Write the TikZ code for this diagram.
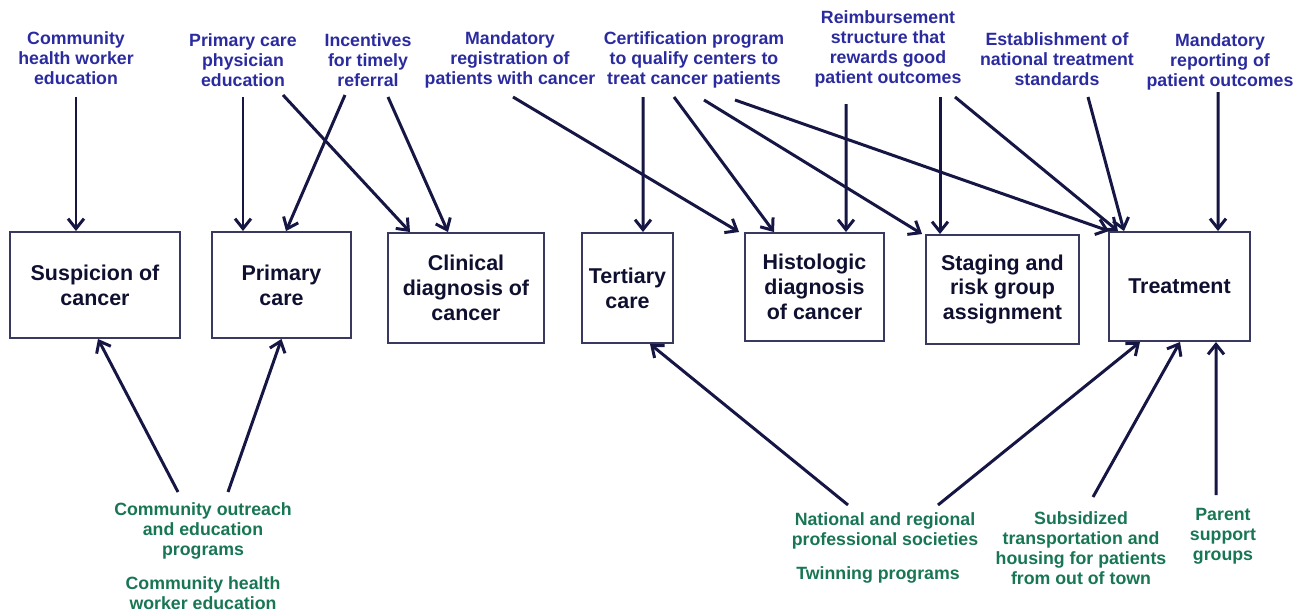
\documentclass[tikz,border=0pt]{standalone}
\usepackage{fontspec}
\setmainfont{Liberation Sans}
\usetikzlibrary{arrows.meta,calc}
\definecolor{lblblue}{RGB}{43,43,160}
\definecolor{lblgreen}{RGB}{24,118,84}
\definecolor{navy}{RGB}{22,22,68}
\tikzset{
  stagebox/.style={draw=navy!85!white,line width=1.1pt,align=center,inner sep=0pt,
    text=navy!70!black,font=\fontsize{12.2}{14.2}\selectfont\bfseries},
  policy/.style={align=center,inner sep=0pt,text=lblblue,font=\fontsize{10.1}{11.4}\selectfont\bfseries},
  support/.style={align=center,inner sep=0pt,text=lblgreen,font=\fontsize{10.1}{11.4}\selectfont\bfseries},
  arr/.style={-{Straight Barb[length=2mm,width=3.2mm]},line width=1.7pt,draw=navy}
}
\begin{document}
\begin{tikzpicture}[x=0.02cm,y=-0.02cm]
  \useasboundingbox (0,0) rectangle (1302,612);

  \node[stagebox,minimum width=3.4cm,minimum height=2.12cm] (susp) at (95,285) {Suspicion of\\cancer};
  \node[stagebox,minimum width=2.78cm,minimum height=2.12cm] (prim) at (281.5,285) {Primary\\care};
  \node[stagebox,minimum width=3.12cm,minimum height=2.2cm] (clin) at (466,288) {Clinical\\diagnosis of\\cancer};
  \node[stagebox,minimum width=1.82cm,minimum height=2.2cm] (tert) at (627.5,288) {Tertiary\\care};
  \node[stagebox,minimum width=2.78cm,minimum height=2.16cm] (hist) at (814.5,287) {Histologic\\diagnosis\\of cancer};
  \node[stagebox,minimum width=3.06cm,minimum height=2.18cm] (stag) at (1002.5,289.5) {Staging and\\risk group\\assignment};
  \node[stagebox,minimum width=2.82cm,minimum height=2.18cm] (treat) at (1179.5,286.5) {Treatment};

  \node[policy] (chw) at (76,58) {Community\\health worker\\education};
  \node[policy] (pcp) at (243,60) {Primary care\\physician\\education};
  \node[policy] (incent) at (368,60) {Incentives\\for timely\\referral};
  \node[policy] (mreg) at (510,60) {Mandatory\\registration of\\patients with cancer};
  \node[policy] (cert) at (694,60) {Certification program\\to qualify centers to\\treat cancer patients};
  \node[policy] (reimb) at (888,48.5) {Reimbursement\\structure that\\rewards good\\patient outcomes};
  \node[policy] (estab) at (1057,59) {Establishment of\\national treatment\\standards};
  \node[policy] (mrep) at (1220,62) {Mandatory\\reporting of\\patient outcomes};

  \node[support] (outreach) at (203,531) {Community outreach\\and education\\programs};
  \node[support] (chwb) at (203,593.5) {Community health\\worker education};
  \node[support] (natl) at (885,531) {National and regional\\professional societies};
  \node[support] (twin) at (878,575) {Twinning programs};
  \node[support] (subs) at (1081,548.5) {Subsidized\\transportation and\\housing for patients\\from out of town};
  \node[support] (parent) at (1223,536) {Parent\\support\\groups};

  \draw[arr] ($(chw)+(0,39)$) -- ($(susp.north)+(-19,0)$);
  \draw[arr] ($(pcp)+(0,37)$) -- ($(prim.north)+(-38.5,0)$);
  \draw[arr] ($(pcp)+(40,35)$) -- ($(clin.north)+(-56,0)$);
  \draw[arr] ($(incent)+(-23,35)$) -- ($(prim.north)+(4.5,0)$);
  \draw[arr] ($(incent)+(20,37)$) -- ($(clin.north)+(-18,0)$);
  \draw[arr] ($(mreg)+(3,37)$) -- ($(hist.north west)+(-5,0)$);
  \draw[arr] ($(cert)+(-51,37)$) -- ($(tert.north)+(15.5,0)$);
  \draw[arr] ($(cert)+(-20,37)$) -- ($(hist.north)+(-40.5,0)$);
  \draw[arr] ($(cert)+(10,40)$) -- ($(stag.north west)+(-3,0)$);
  \draw[arr] ($(cert)+(41,40)$) -- ($(treat.north west)+(1,0)$);
  \draw[arr] ($(reimb)+(-42,55.5)$) -- ($(hist.north)+(31.5,0)$);
  \draw[arr] ($(reimb)+(52,48.5)$) -- ($(stag.north)+(-62.5,0)$);
  \draw[arr] ($(reimb)+(67,48.5)$) -- ($(treat.north)+(-61.5,0)$);
  \draw[arr] ($(estab)+(31,38)$) -- ($(treat.north)+(-55.5,0)$);
  \draw[arr] ($(mrep)+(-2,30)$) -- ($(treat.north)+(38.5,0)$);

  \draw[arr] ($(outreach)+(-25,-39)$) -- ($(susp.south)+(3,0)$);
  \draw[arr] ($(outreach)+(25,-39)$) -- (prim.south);
  \draw[arr] ($(natl)+(-37,-26)$) -- ($(tert.south)+(22.5,0)$);
  \draw[arr] ($(natl)+(53,-26)$) -- ($(treat.south)+(-39.5,0)$);
  \draw[arr] ($(subs)+(12,-51.5)$) -- ($(treat.south)+(0.5,0)$);
  \draw[arr] ($(parent)+(-7,-41)$) -- ($(treat.south)+(36.5,0)$);
\end{tikzpicture}
\end{document}
